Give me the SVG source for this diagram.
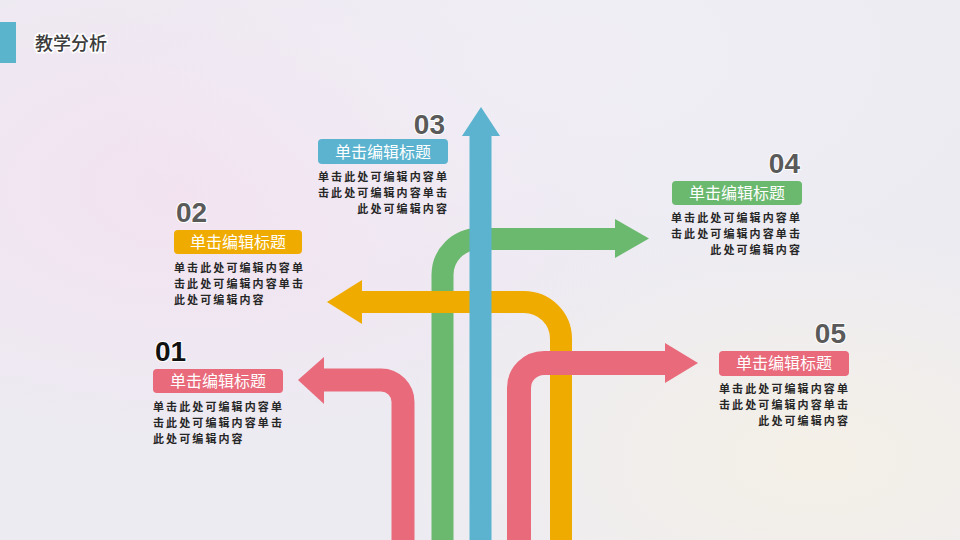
<svg xmlns="http://www.w3.org/2000/svg" width="960" height="540" viewBox="0 0 960 540">
<defs>
<radialGradient id="w1" cx="0.2" cy="0.35" r="0.5"><stop offset="0" stop-color="#f6dff0" stop-opacity="0.7"/><stop offset="1" stop-color="#f6dff0" stop-opacity="0"/></radialGradient>
<radialGradient id="w2" cx="0.85" cy="0.85" r="0.45"><stop offset="0" stop-color="#f5f1e6" stop-opacity="0.9"/><stop offset="1" stop-color="#f5f1e6" stop-opacity="0"/></radialGradient>
<radialGradient id="w3" cx="0.6" cy="0.1" r="0.5"><stop offset="0" stop-color="#f1eef6" stop-opacity="0.9"/><stop offset="1" stop-color="#f1eef6" stop-opacity="0"/></radialGradient>
<style>
.num{font-family:"Liberation Sans","Noto Sans",sans-serif;font-weight:700;font-size:28px;fill:#5a5a5a;stroke:#ffffff;stroke-width:2;paint-order:stroke}
.ttl{font-family:"Noto Sans CJK SC","Noto Sans",sans-serif;font-size:16px;fill:#ffffff;text-anchor:middle}
.body{font-family:"Noto Sans CJK SC","Noto Sans",sans-serif;font-weight:700;font-size:11px;letter-spacing:2.1px;fill:#262626}
.r{text-anchor:end}
.ln{fill:none;stroke-linecap:butt}
</style>
</defs>
<rect width="960" height="540" fill="#ecebf2"/>
<rect width="960" height="540" fill="url(#w1)"/>
<rect width="960" height="540" fill="url(#w2)"/>
<rect width="960" height="540" fill="url(#w3)"/>

<g id="header">
<rect x="0" y="22" width="16" height="41" fill="#5ab4cb"/>
<text x="35" y="50" font-family="'Noto Sans CJK SC',sans-serif" font-size="18" font-weight="500" fill="#3c3c3c" stroke="#ffffff" stroke-width="3" paint-order="stroke">教学分析</text>
</g>

<g id="connectors">
<path class="ln" d="M442.5 540 V275 A36 36 0 0 1 478.5 239 H617" stroke="#6bb86f" stroke-width="22"/>
<polygon points="615,219 649,238.5 615,258" fill="#6bb86f"/>
<path class="ln" d="M360 302 H524 A37 37 0 0 1 561 339 V540" stroke="#f0ab00" stroke-width="22"/>
<polygon points="362,280 327,302 362,324" fill="#f0ab00"/>
<path class="ln" d="M322 380 H381 A22 22 0 0 1 403 402 V540" stroke="#e86a7b" stroke-width="23"/>
<polygon points="324,357 298,380 324,404" fill="#e86a7b"/>
<path class="ln" d="M519 540 V388 A25 25 0 0 1 544 363 H667" stroke="#e86a7b" stroke-width="24"/>
<polygon points="665,343 698,363 665,383" fill="#e86a7b"/>
<path class="ln" d="M480.5 540 V134" stroke="#5bb3cf" stroke-width="22"/>
<polygon points="462,136 481,107 500,136" fill="#5bb3cf"/>
</g>

<g id="node01">
<text class="num" x="155" y="361" style="fill:#111111">01</text>
<rect x="153" y="369" width="130" height="24" rx="4" fill="#e86a7b"/>
<text class="ttl" x="218" y="387">单击编辑标题</text>
<text class="body" x="153" y="411">单击此处可编辑内容单</text>
<text class="body" x="153" y="427">击此处可编辑内容单击</text>
<text class="body" x="153" y="443">此处可编辑内容</text>
</g>

<g id="node02">
<text class="num" x="176" y="222">02</text>
<rect x="174" y="230" width="128" height="24" rx="4" fill="#f0ab00"/>
<text class="ttl" x="238" y="248">单击编辑标题</text>
<text class="body" x="174" y="272">单击此处可编辑内容单</text>
<text class="body" x="174" y="288">击此处可编辑内容单击</text>
<text class="body" x="174" y="304">此处可编辑内容</text>
</g>

<g id="node03">
<text class="num r" x="445" y="134">03</text>
<rect x="318" y="139" width="130" height="25" rx="4" fill="#5bb3cf"/>
<text class="ttl" x="383" y="158">单击编辑标题</text>
<text class="body r" x="449" y="181">单击此处可编辑内容单</text>
<text class="body r" x="449" y="197">击此处可编辑内容单击</text>
<text class="body r" x="449" y="213">此处可编辑内容</text>
</g>

<g id="node04">
<text class="num r" x="800" y="173">04</text>
<rect x="672" y="181" width="130" height="24" rx="4" fill="#6bb86f"/>
<text class="ttl" x="737" y="199">单击编辑标题</text>
<text class="body r" x="802" y="222">单击此处可编辑内容单</text>
<text class="body r" x="802" y="238">击此处可编辑内容单击</text>
<text class="body r" x="802" y="254">此处可编辑内容</text>
</g>

<g id="node05">
<text class="num r" x="846" y="343">05</text>
<rect x="719" y="351" width="130" height="25" rx="4" fill="#e86a7b"/>
<text class="ttl" x="784" y="369">单击编辑标题</text>
<text class="body r" x="850" y="393">单击此处可编辑内容单</text>
<text class="body r" x="850" y="409">击此处可编辑内容单击</text>
<text class="body r" x="850" y="425">此处可编辑内容</text>
</g>
</svg>
